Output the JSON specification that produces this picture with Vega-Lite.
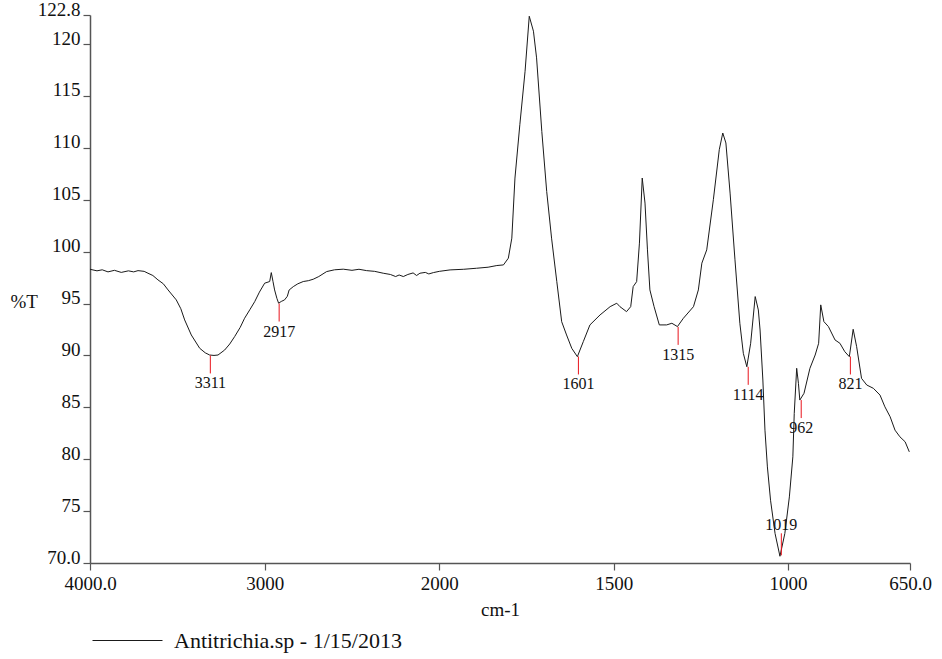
{
  "$schema": "https://vega.github.io/schema/vega-lite/v6.json",
  "width": 820,
  "height": 548,
  "autosize": {"type": "none"},
  "padding": {"left": 90, "top": 15, "right": 32, "bottom": 96},
  "background": "white",
  "config": {
    "view": {"stroke": null},
    "font": "Liberation Serif",
    "axis": {
      "labelFont": "Liberation Serif",
      "labelFontSize": 19,
      "labelColor": "#111",
      "titleFont": "Liberation Serif",
      "titleFontSize": 19,
      "titleFontWeight": "normal",
      "titleColor": "#111",
      "domainColor": "#555",
      "domainWidth": 1.5,
      "tickColor": "#555",
      "tickWidth": 1.2,
      "tickSize": 7,
      "grid": false,
      "labelFlush": false,
      "labelOverlap": false
    },
    "legend": {
      "orient": "none",
      "legendX": 2,
      "legendY": 590,
      "title": null,
      "symbolType": "stroke",
      "symbolSize": 4900,
      "symbolStrokeWidth": 1,
      "labelFont": "Liberation Serif",
      "labelFontSize": 22,
      "labelColor": "#111",
      "labelOffset": 11,
      "labelLimit": 0,
      "padding": 0
    }
  },
  "datasets": {
    "spectrum": [
      {"w": 4000, "T": 98.3}, {"w": 3960, "T": 98.15}, {"w": 3930, "T": 98.25}, {"w": 3897, "T": 98.05},
      {"w": 3860, "T": 98.2}, {"w": 3821, "T": 98.0}, {"w": 3780, "T": 98.15}, {"w": 3750, "T": 98.05},
      {"w": 3725, "T": 98.17}, {"w": 3690, "T": 98.1}, {"w": 3668, "T": 97.92}, {"w": 3640, "T": 97.7},
      {"w": 3611, "T": 97.28}, {"w": 3580, "T": 96.9}, {"w": 3553, "T": 96.31}, {"w": 3506, "T": 95.35},
      {"w": 3480, "T": 94.5}, {"w": 3458, "T": 93.42}, {"w": 3420, "T": 91.97}, {"w": 3372, "T": 90.69},
      {"w": 3340, "T": 90.25}, {"w": 3315, "T": 90.04}, {"w": 3290, "T": 90.0}, {"w": 3267, "T": 90.04},
      {"w": 3229, "T": 90.52}, {"w": 3200, "T": 91.1}, {"w": 3172, "T": 91.81}, {"w": 3140, "T": 92.7},
      {"w": 3115, "T": 93.58}, {"w": 3085, "T": 94.4}, {"w": 3057, "T": 95.18}, {"w": 3030, "T": 96.1},
      {"w": 3000, "T": 96.96}, {"w": 2971, "T": 97.12}, {"w": 2962, "T": 97.98}, {"w": 2952, "T": 97.1},
      {"w": 2943, "T": 96.31}, {"w": 2930, "T": 95.5}, {"w": 2920, "T": 95.03}, {"w": 2905, "T": 95.2},
      {"w": 2886, "T": 95.35}, {"w": 2870, "T": 95.7}, {"w": 2860, "T": 96.3}, {"w": 2836, "T": 96.63},
      {"w": 2810, "T": 96.9}, {"w": 2779, "T": 97.12}, {"w": 2750, "T": 97.2}, {"w": 2722, "T": 97.34},
      {"w": 2690, "T": 97.6}, {"w": 2645, "T": 98.08}, {"w": 2600, "T": 98.25}, {"w": 2550, "T": 98.31},
      {"w": 2500, "T": 98.2}, {"w": 2460, "T": 98.3}, {"w": 2416, "T": 98.17}, {"w": 2370, "T": 98.1},
      {"w": 2321, "T": 97.92}, {"w": 2280, "T": 97.8}, {"w": 2250, "T": 97.6}, {"w": 2230, "T": 97.75},
      {"w": 2206, "T": 97.6}, {"w": 2180, "T": 97.8}, {"w": 2150, "T": 97.95}, {"w": 2130, "T": 97.7},
      {"w": 2111, "T": 97.92}, {"w": 2080, "T": 98.0}, {"w": 2060, "T": 97.85}, {"w": 2034, "T": 97.98},
      {"w": 2000, "T": 98.1}, {"w": 1969, "T": 98.24}, {"w": 1930, "T": 98.3}, {"w": 1893, "T": 98.4},
      {"w": 1860, "T": 98.5}, {"w": 1835, "T": 98.66}, {"w": 1816, "T": 98.72}, {"w": 1802, "T": 99.37},
      {"w": 1792, "T": 101.3}, {"w": 1783, "T": 107.09}, {"w": 1769, "T": 112.23}, {"w": 1754, "T": 117.38},
      {"w": 1742, "T": 122.68}, {"w": 1730, "T": 121.24}, {"w": 1721, "T": 118.67}, {"w": 1706, "T": 111.59},
      {"w": 1692, "T": 105.8}, {"w": 1678, "T": 101.3}, {"w": 1663, "T": 97.11}, {"w": 1649, "T": 93.25},
      {"w": 1635, "T": 91.97}, {"w": 1620, "T": 90.68}, {"w": 1604, "T": 89.88}, {"w": 1587, "T": 91.33},
      {"w": 1568, "T": 92.94}, {"w": 1539, "T": 93.9}, {"w": 1510, "T": 94.7}, {"w": 1491, "T": 95.03},
      {"w": 1482, "T": 94.7}, {"w": 1463, "T": 94.22}, {"w": 1451, "T": 94.7}, {"w": 1444, "T": 96.63},
      {"w": 1434, "T": 97.11}, {"w": 1426, "T": 100.82}, {"w": 1418, "T": 107.09}, {"w": 1410, "T": 104.68},
      {"w": 1403, "T": 100.17}, {"w": 1396, "T": 96.31}, {"w": 1384, "T": 94.7}, {"w": 1369, "T": 92.94},
      {"w": 1348, "T": 92.94}, {"w": 1333, "T": 93.1}, {"w": 1317, "T": 92.78}, {"w": 1300, "T": 93.58},
      {"w": 1271, "T": 94.7}, {"w": 1257, "T": 96.31}, {"w": 1247, "T": 98.89}, {"w": 1233, "T": 100.17},
      {"w": 1214, "T": 105.0}, {"w": 1197, "T": 109.82}, {"w": 1187, "T": 111.43}, {"w": 1178, "T": 110.47},
      {"w": 1166, "T": 105.64}, {"w": 1152, "T": 99.21}, {"w": 1138, "T": 93.1}, {"w": 1128, "T": 90.2},
      {"w": 1118, "T": 88.91}, {"w": 1107, "T": 91.17}, {"w": 1094, "T": 95.67}, {"w": 1085, "T": 94.38},
      {"w": 1080, "T": 92.45}, {"w": 1072, "T": 87.63}, {"w": 1066, "T": 82.8}, {"w": 1059, "T": 79.26},
      {"w": 1050, "T": 76.05}, {"w": 1037, "T": 72.84}, {"w": 1023, "T": 70.65}, {"w": 1009, "T": 72.84},
      {"w": 996, "T": 76.37}, {"w": 986, "T": 80.23}, {"w": 982, "T": 84.41}, {"w": 975, "T": 88.76},
      {"w": 970, "T": 87.31}, {"w": 966, "T": 85.7}, {"w": 954, "T": 86.35}, {"w": 937, "T": 88.76},
      {"w": 922, "T": 90.04}, {"w": 912, "T": 91.17}, {"w": 906, "T": 94.87}, {"w": 897, "T": 93.26},
      {"w": 884, "T": 92.78}, {"w": 865, "T": 91.49}, {"w": 851, "T": 91.17}, {"w": 837, "T": 90.36},
      {"w": 824, "T": 89.88}, {"w": 813, "T": 92.52}, {"w": 803, "T": 90.84}, {"w": 789, "T": 87.79},
      {"w": 774, "T": 87.15}, {"w": 755, "T": 86.83}, {"w": 736, "T": 86.18}, {"w": 722, "T": 85.05},
      {"w": 707, "T": 84.09}, {"w": 693, "T": 82.8}, {"w": 679, "T": 82.16}, {"w": 664, "T": 81.68},
      {"w": 652, "T": 80.71}
    ],
    "peaks": [
      {"w": 3311, "T": 90.0, "label": "3311"},
      {"w": 2917, "T": 95.0, "label": "2917"},
      {"w": 1601, "T": 89.9, "label": "1601"},
      {"w": 1315, "T": 92.75, "label": "1315"},
      {"w": 1114, "T": 88.9, "label": "1114"},
      {"w": 1019, "T": 70.74, "label": "1019"},
      {"w": 962, "T": 85.7, "label": "962"},
      {"w": 821, "T": 89.9, "label": "821"}
    ]
  },
  "encoding": {
    "x": {
      "field": "w",
      "type": "quantitative",
      "scale": {"type": "linear", "domain": [4000, 2000, 650], "range": [0, 349.3, 820], "zero": false, "nice": false},
      "axis": {
        "title": "cm-1",
        "values": [4000, 3000, 2000, 1500, 1000, 650],
        "labelExpr": "datum.value == 4000 || datum.value == 650 ? format(datum.value, '.1f') : format(datum.value, 'd')",
        "labelPadding": 4,
        "titleBaseline": "alphabetic",
        "titleY": 52
      }
    },
    "y": {
      "field": "T",
      "type": "quantitative",
      "scale": {"domain": [70, 122.8], "zero": false, "nice": false},
      "axis": {
        "title": "%T",
        "values": [70, 75, 80, 85, 90, 95, 100, 105, 110, 115, 120, 122.8],
        "labelExpr": "datum.value == 70 || datum.value == 122.8 ? format(datum.value, '.1f') : format(datum.value, 'd')",
        "labelBaseline": "alphabetic",
        "labelPadding": 3,
        "titleAngle": 0,
        "titleAlign": "left",
        "titleBaseline": "alphabetic",
        "titleX": -80,
        "titleY": 292
      }
    }
  },
  "layer": [
    {
      "data": {"name": "spectrum"},
      "mark": {"type": "line", "strokeWidth": 1, "interpolate": "linear"},
      "encoding": {
        "color": {"datum": "Antitrichia.sp - 1/15/2013", "type": "nominal", "scale": {"range": ["#1a1a1a"]}}
      }
    },
    {
      "data": {"name": "peaks"},
      "transform": [{"filter": "datum.w != 1019"}],
      "mark": {"type": "rule", "color": "#e8141c", "strokeWidth": 1, "y2Offset": 18},
      "encoding": {"y2": {"field": "T"}}
    },
    {
      "data": {"name": "peaks"},
      "transform": [{"filter": "datum.w != 1019"}],
      "mark": {"type": "text", "font": "Liberation Serif", "fontSize": 16, "color": "#111", "baseline": "middle", "dy": 28},
      "encoding": {"text": {"field": "label"}}
    },
    {
      "data": {"name": "peaks"},
      "transform": [{"filter": "datum.w == 1019"}],
      "mark": {"type": "rule", "color": "#e8141c", "strokeWidth": 1, "y2Offset": -22},
      "encoding": {"y2": {"field": "T"}}
    },
    {
      "data": {"name": "peaks"},
      "transform": [{"filter": "datum.w == 1019"}],
      "mark": {"type": "text", "font": "Liberation Serif", "fontSize": 16, "color": "#111", "baseline": "middle", "dy": -30},
      "encoding": {"text": {"field": "label"}}
    }
  ]
}
